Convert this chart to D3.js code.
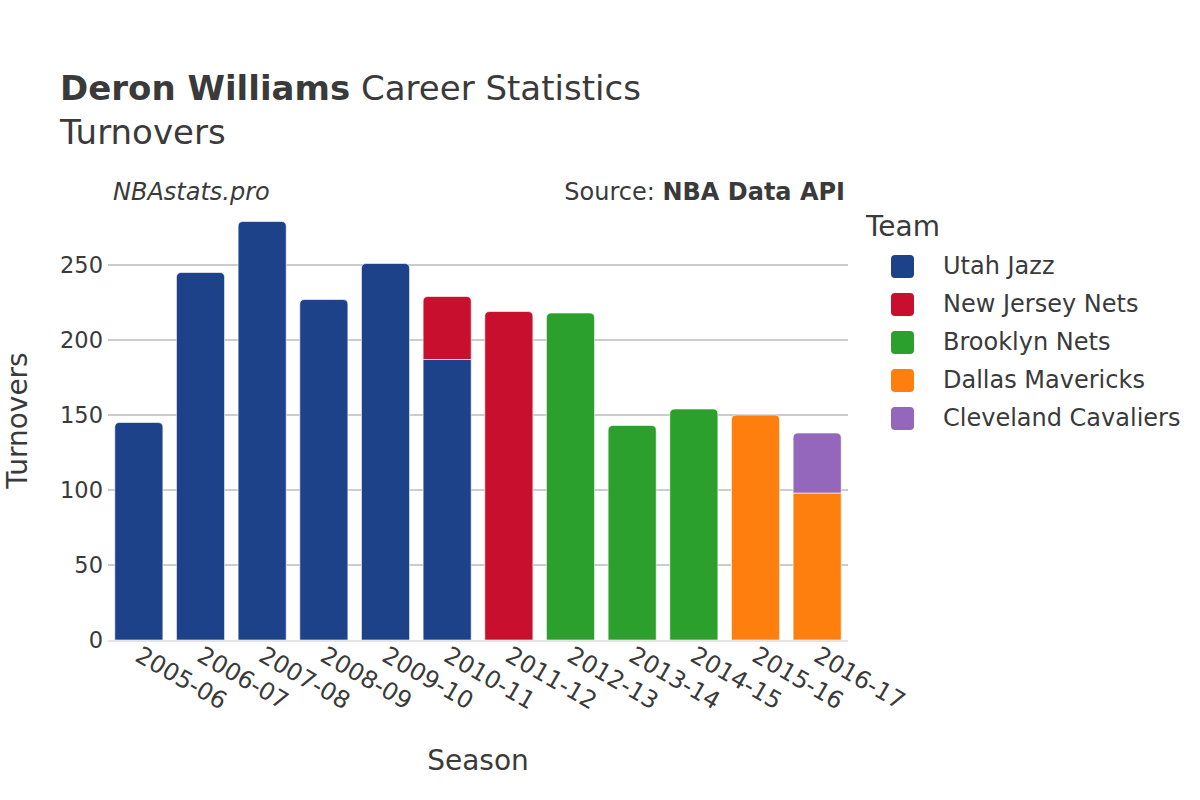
<!DOCTYPE html>
<html><head><meta charset="utf-8">
<script src="https://cdn.jsdelivr.net/npm/d3@7"></script>
<style>body{margin:0;background:#fff}svg{font-family:"DejaVu Sans",sans-serif}</style>
</head><body><svg id="c" width="1200" height="800"></svg>
<script>
const seasons = ["2005-06","2006-07","2007-08","2008-09","2009-10","2010-11","2011-12","2012-13","2013-14","2014-15","2015-16","2016-17"];
const teams = ["Utah Jazz","New Jersey Nets","Brooklyn Nets","Dallas Mavericks","Cleveland Cavaliers"];
const colors = ["#1d428a","#c8102e","#2ca02c","#ff7f0e","#9467bd"];
const utahJazz        = [145,245,279,227,251,187,0,0,0,0,0,0];
const newJerseyNets   = [0,0,0,0,0,42,219,0,0,0,0,0];
const brooklynNets    = [0,0,0,0,0,0,0,218,143,154,0,0];
const dallasMavericks = [0,0,0,0,0,0,0,0,0,0,150,98];
const clevelandCavs   = [0,0,0,0,0,0,0,0,0,0,0,40];
const yTicks = [0,50,100,150,200,250];
const series = [utahJazz,newJerseyNets,brooklynNets,dallasMavericks,clevelandCavs];

const svg = d3.select("#c");
const L=108, R=848, T=201, B=640;
const x = d3.scaleBand().domain(seasons).range([L,R]).paddingInner(0.22).paddingOuter(0.11);
const totals = seasons.map((s,i)=>d3.sum(series,a=>a[i]));
const y = d3.scaleLinear().domain([0, d3.max(totals)*1.049]).range([B,T]);
const txt = "#3a3a3a";

// grid
svg.append("g").selectAll("line").data(yTicks.filter(d=>d>0)).join("line")
  .attr("x1",L).attr("x2",R).attr("y1",d=>y(d)).attr("y2",d=>y(d))
  .attr("stroke","#999").attr("stroke-width",1);

// bars
const stackData = seasons.map((s,i)=>{const o={season:s}; teams.forEach((t,k)=>o[t]=series[k][i]); return o;});
const stack = d3.stack().keys(teams)(stackData);
const r = 5;
function barPath(x0,w,y0,y1,round){
  if(!round) return `M${x0},${y0}V${y1}H${x0+w}V${y0}Z`;
  return `M${x0},${y0}V${y1+r}Q${x0},${y1} ${x0+r},${y1}H${x0+w-r}Q${x0+w},${y1} ${x0+w},${y1+r}V${y0}Z`;
}
stack.forEach((layer,k)=>{
  svg.append("g").selectAll("path").data(layer.filter(d=>d[1]-d[0]>0)).join("path")
    .attr("d",(d,i)=>{
      const idx = seasons.indexOf(d.data.season);
      const isTop = d[1]===totals[idx];
      return barPath(x(d.data.season), x.bandwidth(), y(d[0]), y(d[1]), isTop);
    })
    .attr("fill",colors[k]).attr("stroke","rgba(255,255,255,0.6)").attr("stroke-width",1);
});

// baseline
svg.append("line").attr("x1",L).attr("x2",R).attr("y1",B+1).attr("y2",B+1).attr("stroke","#e4e4e4").attr("stroke-width",2);

// y axis
const ya = svg.append("g").attr("transform",`translate(${L},0)`).call(d3.axisLeft(y).tickValues(yTicks).tickSize(0).tickPadding(5));
ya.select(".domain").remove();
ya.selectAll("text").attr("font-size",22.5).attr("fill",txt).attr("font-family","DejaVu Sans");

// x axis
const xa = svg.append("g").attr("transform",`translate(0,${B})`).call(d3.axisBottom(x).tickSize(0));
xa.select(".domain").remove();
xa.selectAll("text").attr("font-size",24).attr("fill",txt).attr("font-family","DejaVu Sans")
  .attr("text-anchor","start").attr("dy",0).attr("y",0)
  .attr("transform","translate(-5,20) rotate(30)");

// titles
const title = svg.append("text").attr("x",60).attr("y",100).attr("font-size",34).attr("fill",txt);
title.append("tspan").attr("font-weight","bold").text("Deron Williams");
title.append("tspan").text(" Career Statistics");
svg.append("text").attr("x",60).attr("y",144).attr("font-size",34).attr("fill",txt).text("Turnovers");
svg.append("text").attr("x",113).attr("y",200).attr("font-size",24).attr("font-style","italic").attr("fill",txt).text("NBAstats.pro");
const src = svg.append("text").attr("x",845).attr("y",200).attr("font-size",24).attr("text-anchor","end").attr("fill",txt);
src.append("tspan").text("Source: ");
src.append("tspan").attr("font-weight","bold").text("NBA Data API");

svg.append("text").attr("x",478).attr("y",770).attr("font-size",28).attr("text-anchor","middle").attr("fill",txt).text("Season");
svg.append("text").attr("transform",`translate(27,${(T+B)/2}) rotate(-90)`).attr("font-size",28).attr("text-anchor","middle").attr("fill",txt).text("Turnovers");

// legend
svg.append("text").attr("x",866).attr("y",236).attr("font-size",28).attr("fill",txt).text("Team");
const lg = svg.append("g").selectAll("g").data(teams).join("g").attr("transform",(d,i)=>`translate(0,${266+i*38})`);
lg.append("rect").attr("x",891).attr("y",-11).attr("width",23).attr("height",23).attr("rx",4).attr("fill",(d,i)=>colors[i]);
lg.append("text").attr("x",943).attr("y",8).attr("font-size",24).attr("fill",txt).text(d=>d);
</script></body></html>
